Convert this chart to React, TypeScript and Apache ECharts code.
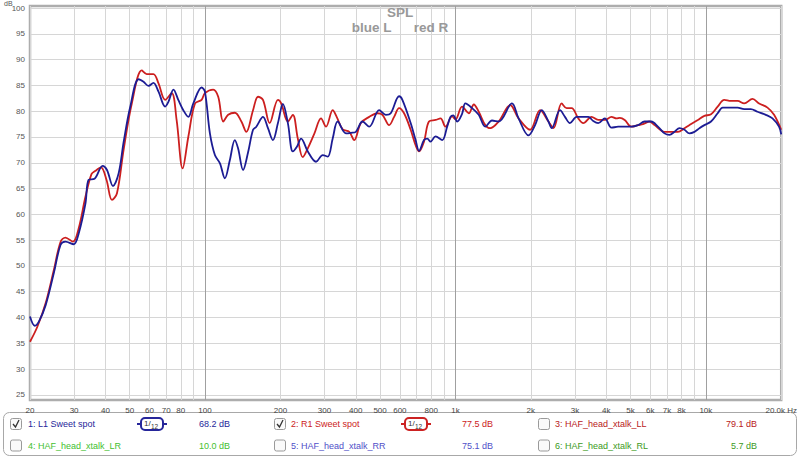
import React, { useEffect, useRef } from 'react';
import * as echarts from 'echarts';

// Frequency response, [Hz, dB]
const leftSweetSpot: [number, number][] = [
  [20, 40.2], [20.9, 38.4], [21.7, 39.2], [23.1, 42.4], [24.9, 48.6], [26.5, 54.1], [27.7, 54.7], [29.9, 54.2],
  [31.3, 56.3], [33.3, 62.1], [34.3, 66.7], [36.2, 66.9], [39.0, 69.4], [40.6, 68.6], [42.9, 65.5], [45.2, 68.0],
  [47.3, 74.0], [50.3, 80.9], [54.3, 86.2], [56.8, 85.7], [59.5, 84.9], [62.2, 85.5], [65.2, 83.8], [69.3, 80.9],
  [71.4, 81.8], [74.8, 84.2], [78.2, 82.2], [81.9, 80.2], [85.8, 78.9], [89.8, 81.5], [96.9, 84.6], [99.9, 83.8],
  [104.6, 75.7], [109.5, 71.5], [114.7, 69.9], [120, 67.0], [125.6, 70.5], [131.5, 74.4], [135.5, 72.8], [141.9, 68.6],
  [148.5, 72.0], [155.5, 76.4], [160.3, 77.0], [170.4, 78.9], [178.4, 76.7], [186.7, 74.4], [195.5, 77.7], [204.6, 81.4],
  [214.2, 77.7], [224.2, 72.2], [232.7, 73.1], [241.9, 74.7], [257.3, 72.2], [277.6, 70.2], [295.2, 71.5], [309, 71.2],
  [323.5, 74.7], [338.6, 78.0], [365.4, 75.7], [382.4, 75.8], [400.2, 76.0], [425.6, 78.0], [452.4, 77.0], [496, 80.2],
  [527, 79.3], [551.6, 79.6], [595.8, 82.9], [614, 82.2], [662.6, 77.7], [693.4, 74.4], [715.4, 72.3], [749, 74.4],
  [772, 74.7], [795.6, 74.1], [833, 75.1], [885.6, 74.4], [926.8, 77.0], [955.2, 78.9], [980, 79.2], [1016, 78.0],
  [1063, 79.5], [1096, 81.5], [1165, 80.6], [1239, 79.3], [1316, 77.0], [1400, 78.2], [1488, 78.0], [1681, 81.5],
  [1787, 78.6], [1958, 75.3], [2080, 77.3], [2212, 80.2], [2352, 78.0], [2424, 76.7], [2616, 80.2], [2738, 78.9],
  [2866, 77.7], [3048, 78.9], [3190, 78.9], [3392, 78.9], [3550, 78.1], [3716, 77.7], [3948, 78.6], [4200, 76.8],
  [4466, 77.0], [4742, 77.0], [5042, 77.0], [5362, 77.3], [5694, 78.0], [6056, 78.0], [6438, 77.0], [6840, 75.7],
  [7158, 75.4], [7496, 76.0], [7848, 76.7], [8216, 76.4], [8600, 75.7], [9004, 76.0], [9426, 76.7], [9868, 77.3],
  [10488, 78.0], [11150, 79.6], [11674, 80.7], [12596, 80.7], [13390, 80.7], [14226, 80.4], [15126, 80.4], [16084, 79.9],
  [17358, 79.3], [18458, 78.6], [19600, 77.0], [20000, 75.5],
];

const rightSweetSpot: [number, number][] = [
  [20, 35.3], [21.4, 38.2], [23.1, 42.8], [24.9, 49.2], [26.5, 54.7], [27.7, 55.5], [29.7, 54.7], [31.3, 57.3],
  [33.3, 63.4], [35.2, 67.8], [36.4, 68.4], [38.4, 69.1], [40.4, 66.7], [42.5, 62.8], [44.5, 64.1], [47.3, 72.5],
  [51.0, 81.5], [55.9, 87.9], [58.5, 87.2], [62.2, 87.2], [65.2, 85.4], [69.3, 82.2], [73.6, 83.5], [77.0, 78.3],
  [81.4, 68.9], [85.8, 75.1], [91.2, 81.5], [96.9, 82.2], [99.9, 83.5], [107.8, 84.2], [112.9, 82.8], [118.2, 78.0],
  [123.7, 79.3], [131.5, 79.7], [139.7, 78.0], [146.2, 76.0], [155.5, 80.2], [162.8, 82.8], [170.4, 82.2], [181.2, 77.7],
  [195.5, 82.2], [201.5, 81.5], [214.2, 78.0], [224.2, 79.3], [234.7, 74.7], [245.7, 71.1], [257.3, 72.8], [273.5, 75.7],
  [290.6, 78.6], [304.2, 77.0], [323.5, 80.2], [335.5, 78.9], [354.5, 76.5], [376.9, 76.0], [394.4, 74.4], [419.1, 77.7],
  [452.4, 78.9], [488.4, 79.6], [511.2, 79.3], [543.7, 77.3], [569, 78.9], [595.8, 80.6], [623.6, 79.6], [662.6, 76.4],
  [693.4, 73.4], [715.4, 72.2], [749, 74.1], [784, 78.0], [833, 78.3], [872, 78.6], [912.6, 77.0], [970, 79.0],
  [1000, 78.4], [1063, 80.9], [1131, 79.6], [1184, 81.3], [1239, 79.9], [1316, 77.3], [1378, 76.7], [1488, 78.0],
  [1655, 81.2], [1787, 78.6], [1987, 76.4], [2178, 80.2], [2352, 78.0], [2462, 76.7], [2656, 81.5], [2780, 80.6],
  [2911, 80.6], [3096, 78.6], [3240, 77.7], [3496, 78.9], [3716, 78.3], [3948, 78.3], [4200, 78.9], [4396, 78.6],
  [4532, 78.7], [4742, 78.3], [5042, 77.0], [5362, 77.3], [5612, 77.5], [5962, 78.0], [6242, 77.3], [6840, 76.0],
  [7272, 76.0], [7734, 76.0], [8216, 76.7], [8736, 77.5], [9288, 78.3], [9868, 79.1], [10488, 79.4], [11150, 80.9],
  [11848, 82.2], [12596, 82.0], [13390, 82.0], [14226, 81.5], [15364, 82.4], [16322, 81.5], [17630, 80.7], [18730, 79.3],
  [20000, 76.4],
];

const xLabelFreqs = [20, 30, 40, 50, 60, 70, 80, 100, 200, 300, 400, 500, 600, 800, 1000, 2000, 3000, 4000, 5000, 6000, 7000, 8000, 10000, 20000];
const xLabelTexts = ['20', '30', '40', '50', '60', '70', '80', '100', '200', '300', '400', '500', '600', '800', '1k', '2k', '3k', '4k', '5k', '6k', '7k', '8k', '10k', '20.0k Hz'];
const xGridFreqs = [20, 30, 40, 50, 60, 70, 80, 90, 100, 200, 300, 400, 500, 600, 700, 800, 900, 1000, 2000, 3000, 4000, 5000, 6000, 7000, 8000, 9000, 10000, 20000];
const yTicks = [25, 30, 35, 40, 45, 50, 55, 60, 65, 70, 75, 80, 85, 90, 95, 100];

const legendLabels = ['1: L1 Sweet spot', '2: R1 Sweet spot', '3: HAF_head_xtalk_LL', '4: HAF_head_xtalk_LR', '5: HAF_head_xtalk_RR', '6: HAF_head_xtalk_RL'];
const legendLevels = ['68.2 dB', '77.5 dB', '79.1 dB', '10.0 dB', '75.1 dB', '5.7 dB'];
const legendChecked = [true, true, false, false, false, false];
const legendColors = ['#26269a', '#cc2222', '#b82020', '#44c030', '#5050c8', '#3c9a22'];

const FONT = '"Liberation Sans", Arial, sans-serif';
const log10 = (v: number) => Math.log10(v);

function buildLegend(): any[] {
  const els: any[] = [];
  els.push({
    type: 'rect', shape: { x: 3.5, y: 412.5, width: 793, height: 43, r: 6 },
    style: { fill: '#fff', stroke: '#a8a8a8', lineWidth: 1 }, silent: true,
  });
  const colCheck = [10, 274, 538];
  const colLabel = [28, 291, 555];
  const colLevel = [230, 493, 757];
  const colIcon = [152, 416];
  const rowY = [424, 445.5];
  legendLabels.forEach((label, i) => {
    const row = Math.floor(i / 3);
    const col = i % 3;
    const cy = rowY[row];
    els.push({
      type: 'rect', shape: { x: colCheck[col] + 0.5, y: cy - 5.5, width: 11, height: 11, r: 2 },
      style: { fill: '#fafafa', stroke: '#9a9a9a', lineWidth: 1 }, silent: true,
    });
    if (legendChecked[i]) {
      els.push({
        type: 'polyline', shape: { points: [[colCheck[col] + 3, cy], [colCheck[col] + 5.5, cy + 3], [colCheck[col] + 9, cy - 4]] },
        style: { stroke: '#333', lineWidth: 1.3, fill: null }, silent: true,
      });
      const ix = colIcon[col];
      const c = legendColors[i];
      els.push({ type: 'line', shape: { x1: ix - 15, y1: cy, x2: ix + 15, y2: cy }, style: { stroke: c, lineWidth: 2 }, silent: true });
      els.push({ type: 'rect', shape: { x: ix - 11, y: cy - 6, width: 22, height: 12, r: 4 }, style: { fill: '#fff', stroke: c, lineWidth: 2 }, silent: true });
      els.push({ type: 'text', style: { text: '1/', x: ix - 8, y: cy - 1, fill: '#333', font: `8px ${FONT}`, align: 'left', verticalAlign: 'middle' }, silent: true });
      els.push({ type: 'text', style: { text: '12', x: ix - 1, y: cy + 2, fill: '#333', font: `6.5px ${FONT}`, align: 'left', verticalAlign: 'middle' }, silent: true });
    }
    els.push({
      type: 'text', style: { text: label, x: colLabel[col], y: cy, fill: legendColors[i], font: `9px ${FONT}`, align: 'left', verticalAlign: 'middle' }, silent: true,
    });
    els.push({
      type: 'text', style: { text: legendLevels[i], x: colLevel[col], y: cy, fill: legendColors[i], font: `9px ${FONT}`, align: 'right', verticalAlign: 'middle' }, silent: true,
    });
  });
  els.push({ type: 'text', style: { text: 'dB', x: 4, y: 0, fill: '#555', font: `7px ${FONT}`, align: 'left', verticalAlign: 'top' }, silent: true });
  return els;
}

export default function App() {
  const ref = useRef<HTMLDivElement>(null);
  useEffect(() => {
    const chart = echarts.init(ref.current!, null, { renderer: 'svg' });
    const gridColors = ['#d6d6d6', '#d6d6d6', '#d6d6d6', '#d6d6d6', '#d6d6d6', '#d6d6d6', '#d6d6d6', '#d6d6d6', '#a0a0a0'];
    chart.setOption({
      animation: false,
      backgroundColor: '#fff',
      textStyle: { fontFamily: FONT },
      title: [
        { text: 'SPL', left: 'center', top: 5, padding: 0, textStyle: { fontSize: 13.5, fontWeight: 'bold', color: '#999', fontFamily: FONT, lineHeight: 15 } },
        { text: 'blue L      red R', left: 'center', top: 20, padding: 0, textStyle: { fontSize: 13.5, fontWeight: 'bold', color: '#999', fontFamily: FONT, lineHeight: 15 } },
      ],
      grid: { left: 30, right: 13, top: 6, bottom: 58, show: true, borderColor: '#adadad', borderWidth: 2.5, backgroundColor: '#fff' },
      xAxis: {
        type: 'value',
        min: log10(20), max: log10(20000),
        axisLine: { show: false },
        axisTick: { show: false, customValues: xGridFreqs.map(log10) },
        axisLabel: {
          customValues: xLabelFreqs.map(log10),
          color: '#444', fontSize: 8, fontFamily: FONT, margin: 6,
          formatter: (v: number) => {
            const i = xLabelFreqs.findIndex((f) => Math.abs(log10(f) - v) < 1e-6);
            return i >= 0 ? xLabelTexts[i] : '';
          },
        },
        splitLine: { show: true, lineStyle: { color: gridColors, width: 1 } },
      },
      yAxis: {
        type: 'value',
        min: 24, max: 100.4,
        axisLine: { show: false },
        axisTick: { show: false, customValues: yTicks },
        axisLabel: { customValues: yTicks, color: '#555', fontSize: 8, fontFamily: FONT, margin: 5 },
        splitLine: { show: true, lineStyle: { color: '#d6d6d6', width: 1 } },
      },
      series: [
        {
          name: 'R1 Sweet spot', type: 'line', showSymbol: false, smooth: 0.35,
          data: rightSweetSpot.map(([f, db]) => [log10(f), db]),
          lineStyle: { color: '#cc1f1f', width: 1.8 }, itemStyle: { color: '#cc1f1f' },
        },
        {
          name: 'L1 Sweet spot', type: 'line', showSymbol: false, smooth: 0.35,
          data: leftSweetSpot.map(([f, db]) => [log10(f), db]),
          lineStyle: { color: '#1c1c94', width: 1.8 }, itemStyle: { color: '#1c1c94' },
        },
      ],
      graphic: buildLegend(),
    });
    return () => chart.dispose();
  }, []);
  return <div ref={ref} style={{ position: 'fixed', left: 0, top: 0, width: 800, height: 458, background: '#fff' }} />;
}
